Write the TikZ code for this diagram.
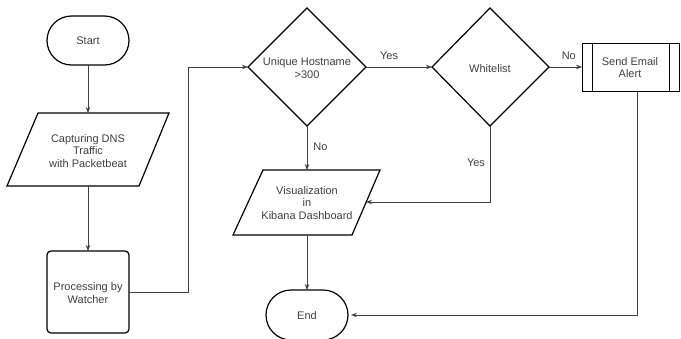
\documentclass[tikz,border=0pt]{standalone}
\usepackage{fontspec}
\setmainfont{Liberation Sans}
\usetikzlibrary{arrows.meta}
\begin{document}
\begin{tikzpicture}[x=1pt,y=-1pt,
  shp/.style={draw=black,line width=1.2pt,line join=miter},
  txt/.style={font=\fontsize{11}{12.3}\selectfont,text=black!75,align=center,inner sep=0pt},
  lbl/.style={font=\fontsize{11}{12.3}\selectfont,text=black!75,inner sep=0pt},
  conn/.style={draw=black!75,line width=0.8pt},
  arr/.style={conn,-{Stealth[length=6pt,width=4.5pt]}}
]
\clip (0,0) rectangle (681,338);
\fill[white] (0,0) rectangle (681,338);

% Start
\draw[shp,rounded corners=24.5pt] (47,16) rectangle (129,65);
\node[txt] (start) at (88,41) {Start};
\coordinate (startB) at (88,65);

% Capturing (parallelogram)
\coordinate (capT) at (88,113);
\coordinate (capB) at (73,186);
\draw[shp] (38,113) -- (169,113) -- (139,186) -- (7,186) -- cycle;
\node[txt] (cap) at (88,151) {Capturing DNS\\Traffic\\with Packetbeat};

% Processing
\draw[shp,rounded corners=4pt] (47,251) rectangle (129,333);
\node[txt] (proc) at (88,293) {Processing by\\Watcher};
\coordinate (procT) at (88,251);
\coordinate (procR) at (129,292);

% Unique diamond
\draw[shp] (248,67) -- (307,8) -- (366,67) -- (307,126) -- cycle;
\coordinate (uniL) at (248,67);
\coordinate (uniR) at (366,67);
\coordinate (uniB) at (307,126);
\node[txt] (uni) at (307,68) {Unique Hostname\\>300};

% Whitelist diamond
\draw[shp] (432,67) -- (490,8) -- (549,67) -- (490,126) -- cycle;
\coordinate (whL) at (432,67);
\coordinate (whR) at (549,67);
\coordinate (whB) at (490,126);
\node[txt] (wh) at (490,69) {Whitelist};

% Send Email
\draw[line width=0.9pt] (582,43) rectangle (679,91);
\draw[line width=0.9pt] (592,43) -- (592,91) (669,43) -- (669,91);
\node[txt] (mail) at (630,67.5) {Send Email\\Alert};
\coordinate (mailL) at (582,67);
\coordinate (mailB) at (637,91);

% Visualization parallelogram
\draw[shp] (263,170) -- (380,170) -- (352,235) -- (233,235) -- cycle;
\node[txt] (vis) at (307,203) {Visualization\\in\\Kibana Dashboard};
\coordinate (visT) at (307,170);
\coordinate (visB) at (307,235);
\coordinate (visR) at (366,202);

% End
\draw[shp,rounded corners=25pt] (266,290) rectangle (348,340);
\node[txt] (endn) at (307,316) {End};
\coordinate (endT) at (307,290);
\coordinate (endR) at (351,315);

% Connectors
\draw[arr] (startB) -- (capT);
\draw[arr] (88,186) -- (procT);
\draw[arr] (procR) -- (188,292) -- (188,67) -- (uniL);
\draw[arr] (uniR) -- node[lbl,pos=0.35,above=7pt] (yes1) {Yes} (whL);
\draw[arr] (whR) -- node[lbl,pos=0.6,above=7pt] (no1) {No} (mailL);
\draw[arr] (uniB) -- node[lbl,pos=0.47,right=6pt] (no2) {No} (visT);
\draw[arr] (whB) -- (490,202) -- (visR);
\node[lbl] (yes2) at (476,163) {Yes};
\draw[arr] (visB) -- (endT);
\draw[arr] (mailB) -- (637,315) -- (endR);
\end{tikzpicture}
\end{document}
